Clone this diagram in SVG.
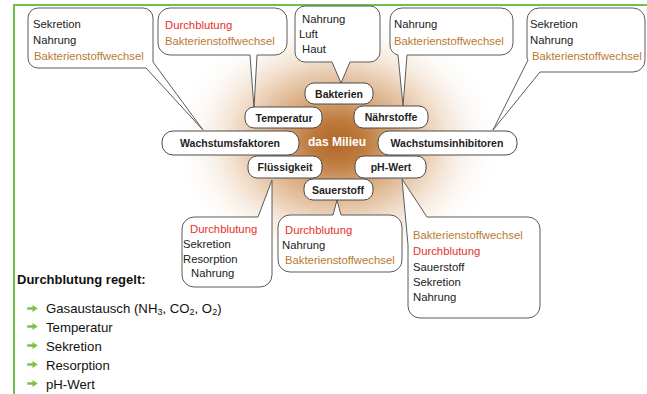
<svg xmlns="http://www.w3.org/2000/svg" width="647" height="394" viewBox="0 0 647 394">
<defs>
<radialGradient id="glow" cx="0.5" cy="0.5" r="0.5">
<stop offset="0" stop-color="#b06726"/>
<stop offset="0.16" stop-color="#bd7a3d"/>
<stop offset="0.36" stop-color="#d8a97d"/>
<stop offset="0.62" stop-color="#f0dcc8"/>
<stop offset="1" stop-color="#ffffff" stop-opacity="0"/>
</radialGradient>
<symbol id="arr" viewBox="0 0 12 8"><path d="M0,2.5 H6 V0 L12,4 L6,8 V5.5 H0 Z" fill="#7cc242"/></symbol>
</defs>
<style>
.bub{fill:#fff;stroke:#5a5a5a;stroke-width:1}
.nd{fill:#fff;stroke:#4a4a4a;stroke-width:1}
.t{font-family:"Liberation Sans",Arial,sans-serif;font-size:11.3px;fill:#222}
.r{fill:#e5322c}
.o{fill:#b97a30}
.nt{font-family:"Liberation Sans",Arial,sans-serif;font-size:10.5px;font-weight:bold;fill:#1e1e1e;text-anchor:middle}
.lt{font-family:"Liberation Sans",Arial,sans-serif;font-size:13.2px;fill:#111}
</style>
<rect width="647" height="394" fill="#fff"/>
<path d="M14,394 V5 H647" fill="none" stroke="#6cc24a" stroke-width="2"/>
<ellipse cx="337" cy="142" rx="165" ry="130" fill="url(#glow)"/>

<g id="connectors">
<path class="bub" d="M38,8 H143 A10,10 0 0 1 153,18 V62 L203,130 L146,68 H38 A10,10 0 0 1 28,58 V18 A10,10 0 0 1 38,8 Z"/>
<path class="bub" d="M170,8 H275 A12,12 0 0 1 287,20 V43 A12,12 0 0 1 275,55 H257 L254,108 L250,55 H170 A12,12 0 0 1 158,43 V20 A12,12 0 0 1 170,8 Z"/>
<path class="bub" d="M305,6 H370 A10,10 0 0 1 380,16 V52 A10,10 0 0 1 370,62 H350 L341,83 L332,62 H305 A10,10 0 0 1 295,52 V16 A10,10 0 0 1 305,6 Z"/>
<path class="bub" d="M402,8 H501 A12,12 0 0 1 513,20 V43 A12,12 0 0 1 501,55 H407 L403,106 L398,55 A10,10 0 0 1 390,45 V20 A12,12 0 0 1 402,8 Z"/>
<path class="bub" d="M539,8 H633 A12,12 0 0 1 645,20 V60 A12,12 0 0 1 633,72 H540 L493,130 L528,60 A10,10 0 0 1 527,58 V20 A12,12 0 0 1 539,8 Z"/>
<path class="bub" d="M194,217 H258 L272,180 L272,228 V275 A12,12 0 0 1 260,287 H194 A12,12 0 0 1 182,275 V229 A12,12 0 0 1 194,217 Z"/>
<path class="bub" d="M290,215 H333 L337,200 L341,215 H390 A12,12 0 0 1 402,227 V260 A12,12 0 0 1 390,272 H290 A12,12 0 0 1 278,260 V227 A12,12 0 0 1 290,215 Z"/>
<path class="bub" d="M427,217 H528 A12,12 0 0 1 540,229 V306 A12,12 0 0 1 528,318 H420 A12,12 0 0 1 408,306 V245 L402,179 Z"/>
</g>

<g id="b1"><text class="t" x="33" y="28">Sekretion</text><text class="t" x="33" y="44">Nahrung</text><text class="t o" x="34" y="60">Bakterienstoffwechsel</text></g>
<g id="b2"><text class="t r" x="165" y="29">Durchblutung</text><text class="t o" x="165" y="45">Bakterienstoffwechsel</text></g>
<g id="b3"><text class="t" x="302" y="23">Nahrung</text><text class="t" x="299" y="38">Luft</text><text class="t" x="302" y="53">Haut</text></g>
<g id="b4"><text class="t" x="394" y="28">Nahrung</text><text class="t o" x="394" y="45">Bakterienstoffwechsel</text></g>
<g id="b5"><text class="t" x="530" y="28">Sekretion</text><text class="t" x="530" y="44">Nahrung</text><text class="t o" x="532" y="60">Bakterienstoffwechsel</text></g>
<g id="b6"><text class="t r" x="190" y="233">Durchblutung</text><text class="t" x="183" y="248">Sekretion</text><text class="t" x="183" y="263">Resorption</text><text class="t" x="191" y="277">Nahrung</text></g>
<g id="b7"><text class="t r" x="285" y="234">Durchblutung</text><text class="t" x="282" y="249">Nahrung</text><text class="t o" x="285" y="264">Bakterienstoffwechsel</text></g>
<g id="b8"><text class="t o" x="413" y="239">Bakterienstoffwechsel</text><text class="t r" x="413" y="255">Durchblutung</text><text class="t" x="413" y="271">Sauerstoff</text><text class="t" x="413" y="286">Sekretion</text><text class="t" x="413" y="301">Nahrung</text></g>

<g id="n-bakterien"><rect class="nd" x="305" y="83" width="68" height="21" rx="9"/><text class="nt" x="339" y="97.5">Bakterien</text></g>
<g id="n-temperatur"><rect class="nd" x="245" y="107" width="77" height="21" rx="9"/><text class="nt" x="284" y="121.5">Temperatur</text></g>
<g id="n-naehrstoffe"><rect class="nd" x="354" y="106" width="74" height="22" rx="9"/><text class="nt" x="391" y="121">Nährstoffe</text></g>
<g id="n-wachstumsfaktoren"><rect class="nd" x="162" y="131" width="137" height="24" rx="11"/><text class="nt" x="230" y="147">Wachstumsfaktoren</text></g>
<g id="n-wachstumsinhibitoren"><rect class="nd" x="378" y="131" width="139" height="24" rx="11"/><text class="nt" x="447" y="147">Wachstumsinhibitoren</text></g>
<g id="n-milieu"><text x="337" y="146" font-family="Liberation Sans, Arial, sans-serif" font-size="12px" font-weight="bold" fill="#fff" text-anchor="middle">das Milieu</text></g>
<g id="n-fluessigkeit"><rect class="nd" x="248" y="156" width="74" height="22" rx="9"/><text class="nt" x="285" y="171">Flüssigkeit</text></g>
<g id="n-phwert"><rect class="nd" x="355" y="156" width="71" height="22" rx="9"/><text class="nt" x="391" y="171">pH-Wert</text></g>
<g id="n-sauerstoff"><rect class="nd" x="304" y="179" width="69" height="21" rx="9"/><text class="nt" x="338" y="193.5">Sauerstoff</text></g>

<g id="legend">
<text x="17" y="284" font-family="Liberation Sans, Arial, sans-serif" font-size="13px" font-weight="bold" fill="#111">Durchblutung regelt:</text>
<use href="#arr" x="27" y="305" width="11" height="7"/>
<use href="#arr" x="27" y="323" width="11" height="7"/>
<use href="#arr" x="27" y="342" width="11" height="7"/>
<use href="#arr" x="27" y="361" width="11" height="7"/>
<use href="#arr" x="27" y="380" width="11" height="7"/>
<text class="lt" x="46" y="313">Gasaustausch (NH<tspan font-size="9px" dy="2">3</tspan><tspan dy="-2">, CO</tspan><tspan font-size="9px" dy="2">2</tspan><tspan dy="-2">, O</tspan><tspan font-size="9px" dy="2">2</tspan><tspan dy="-2">)</tspan></text>
<text class="lt" x="46" y="332">Temperatur</text>
<text class="lt" x="46" y="351">Sekretion</text>
<text class="lt" x="46" y="370">Resorption</text>
<text class="lt" x="46" y="389">pH-Wert</text>
</g>
</svg>
